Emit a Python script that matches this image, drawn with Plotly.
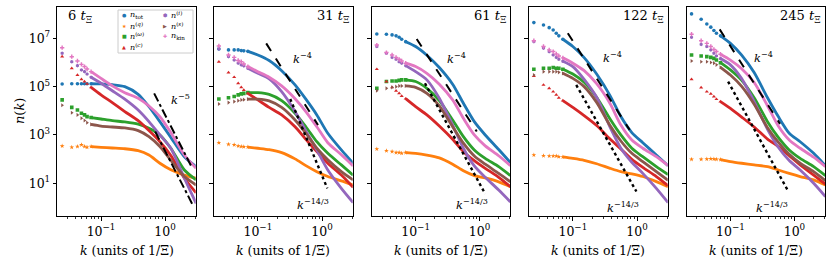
import plotly.graph_objects as go

# ---------------- data (values are log10 n(k)) ----------------
times = [6, 31, 61, 122, 245]
# first 7 k values are discrete lattice shells (drawn as dots), the rest form the dense curve
k_vals = [0.0247, 0.0349, 0.0428, 0.0494, 0.0552, 0.0605, 0.0699,
          0.1, 0.15, 0.235, 0.38, 0.56, 0.83, 1.23, 2.0, 3.05]

log_n_tot = [
    [5.11, 5.12, 5.12, 5.12, 5.12, 5.12, 5.12, 5.11, 5.08, 5.0, 4.68, 4.17, 3.55, 2.9, 2.1, 1.69],
    [6.56, 6.52, 6.52, 6.52, 6.49, 6.48, 6.46, 6.31, 6.08, 5.66, 5.07, 4.48, 3.83, 3.07, 2.38, 1.83],
    [7.18, 7.17, 7.14, 7.1, 7.04, 6.96, 6.86, 6.66, 6.3, 5.79, 5.1, 4.31, 3.55, 3.0, 2.4, 1.86],
    [7.65, 7.55, 7.44, 7.34, 7.21, 7.1, 6.96, 6.66, 6.2, 5.52, 4.63, 3.76, 3.1, 2.68, 2.17, 1.73],
    [8.01, 7.79, 7.59, 7.46, 7.32, 7.21, 7.1, 6.79, 6.3, 5.58, 4.54, 3.76, 3.07, 2.72, 2.24, 1.73],
]
log_n_q = [
    [2.54, 2.49, 2.52, 2.59, 2.52, 2.49, 2.52, 2.49, 2.46, 2.43, 2.35, 2.17, 1.83, 1.56, 1.34, 1.21],
    [2.68, 2.61, 2.59, 2.54, 2.52, 2.51, 2.5, 2.45, 2.39, 2.27, 2.01, 1.73, 1.48, 1.28, 1.1, 0.93],
    [2.42, 2.35, 2.31, 2.27, 2.27, 2.24, 2.27, 2.24, 2.17, 2.05, 1.79, 1.52, 1.32, 1.22, 1.06, 0.86],
    [2.17, 2.14, 2.13, 2.13, 2.13, 2.1, 2.09, 2.03, 1.95, 1.81, 1.62, 1.48, 1.39, 1.28, 1.07, 0.86],
    [1.99, 1.99, 2.0, 2.01, 2.0, 1.99, 1.98, 1.9, 1.83, 1.76, 1.69, 1.55, 1.41, 1.28, 1.14, 0.93],
]
log_n_w = [
    [4.45, 4.14, 4.03, 3.9, 3.83, 3.76, 3.72, 3.66, 3.59, 3.54, 3.45, 3.28, 3.0, 2.45, 1.55, 1.14],
    [4.49, 4.54, 4.59, 4.66, 4.7, 4.72, 4.75, 4.75, 4.68, 4.42, 3.9, 3.34, 2.72, 2.24, 1.76, 1.34],
    [4.93, 5.21, 5.23, 5.23, 5.26, 5.28, 5.28, 5.21, 4.93, 4.42, 3.62, 2.93, 2.38, 2.03, 1.69, 1.32],
    [5.72, 5.76, 5.76, 5.79, 5.76, 5.76, 5.72, 5.52, 5.18, 4.56, 3.66, 3.0, 2.45, 2.1, 1.69, 1.36],
    [6.31, 6.27, 6.24, 6.21, 6.17, 6.1, 5.99, 5.69, 5.26, 4.54, 3.55, 2.9, 2.38, 2.03, 1.69, 1.32],
]
log_n_c = [
    [6.24, 5.76, 5.48, 5.3, 5.21, 5.11, 4.97, 4.66, 4.34, 3.97, 3.59, 3.18, 2.72, 2.15, 1.21, 0.61],
    [6.03, 5.58, 5.39, 5.14, 4.97, 4.86, 4.72, 4.45, 4.14, 3.83, 3.34, 2.82, 2.31, 1.83, 1.34, 0.83],
    [5.72, 5.21, 4.97, 4.83, 4.72, 4.61, 4.5, 4.17, 3.83, 3.37, 2.82, 2.31, 1.94, 1.62, 1.25, 0.86],
    [5.44, 5.07, 4.93, 4.79, 4.66, 4.54, 4.42, 4.14, 3.8, 3.39, 2.83, 2.42, 1.99, 1.66, 1.28, 0.9],
    [5.3, 4.96, 4.79, 4.7, 4.59, 4.48, 4.38, 4.1, 3.74, 3.33, 2.83, 2.52, 2.14, 1.76, 1.34, 0.97],
]
log_n_i = [
    [6.38, 6.03, 5.87, 5.69, 5.62, 5.52, 5.39, 5.14, 4.83, 4.48, 4.03, 3.55, 3.0, 2.45, 1.21, 0.17],
    [6.56, 6.24, 6.1, 5.97, 5.9, 5.86, 5.76, 5.55, 5.32, 4.79, 3.97, 3.17, 2.38, 1.55, 0.79, 0.2],
    [6.66, 6.38, 6.21, 6.13, 6.03, 5.97, 5.87, 5.62, 5.28, 4.52, 3.41, 2.45, 1.72, 1.25, 0.72, 0.23],
    [6.86, 6.59, 6.45, 6.31, 6.21, 6.13, 6.05, 5.83, 5.3, 4.56, 3.32, 2.45, 1.87, 1.41, 0.79, 0.2],
    [7.04, 6.75, 6.66, 6.52, 6.38, 6.27, 6.16, 5.9, 5.33, 4.38, 3.23, 2.49, 1.94, 1.55, 1.0, 0.45],
]
log_n_s = [
    [4.23, 3.92, 3.83, 3.69, 3.6, 3.51, 3.44, 3.37, 3.33, 3.29, 3.18, 2.93, 2.52, 1.95, 1.28, 0.93],
    [4.28, 4.34, 4.38, 4.42, 4.45, 4.46, 4.48, 4.48, 4.41, 4.14, 3.62, 3.07, 2.45, 1.97, 1.48, 1.14],
    [4.83, 4.93, 4.97, 5.0, 5.03, 5.03, 5.03, 4.97, 4.72, 4.2, 3.34, 2.66, 2.13, 1.79, 1.41, 1.06],
    [5.48, 5.62, 5.62, 5.62, 5.62, 5.59, 5.55, 5.34, 5.0, 4.35, 3.39, 2.75, 2.24, 1.9, 1.48, 1.12],
    [6.06, 6.03, 6.03, 6.0, 5.97, 5.9, 5.8, 5.48, 5.01, 4.27, 3.3, 2.7, 2.2, 1.83, 1.48, 1.11],
]
log_n_kin = [
    [6.61, 6.24, 6.06, 5.92, 5.83, 5.73, 5.62, 5.34, 5.03, 4.75, 4.52, 4.2, 3.76, 3.1, 2.17, 1.62],
    [6.68, 6.31, 6.21, 6.08, 6.03, 5.94, 5.83, 5.62, 5.39, 5.03, 4.5, 3.97, 3.34, 2.68, 2.18, 1.72],
    [6.72, 6.41, 6.31, 6.21, 6.13, 6.06, 5.97, 5.83, 5.55, 5.1, 4.45, 3.69, 3.0, 2.55, 2.14, 1.73],
    [6.9, 6.66, 6.52, 6.45, 6.35, 6.27, 6.19, 5.97, 5.66, 5.12, 4.3, 3.41, 2.79, 2.45, 2.1, 1.73],
    [7.17, 6.9, 6.79, 6.66, 6.54, 6.45, 6.34, 6.1, 5.74, 5.17, 4.21, 3.37, 2.79, 2.45, 2.08, 1.69],
]

# power-law guide segments: (k endpoints, log10 n endpoints)
guide_k5_a_k = [0.675, 2.66]; guide_k5_a_n = [4.72, 1.62]
guide_k5_b_k = [0.70, 2.66];  guide_k5_b_n = [3.14, 0.14]
guide_k4_k = [[0.135, 0.866], [0.104, 0.908], [0.0835, 0.767], [0.068, 0.596]]
guide_k4_n = [[6.79, 3.41], [6.97, 3.14], [7.21, 3.21], [7.37, 3.46]]
guide_k143_k = [[0.32, 1.21], [0.14, 1.23], [0.113, 0.977], [0.092, 0.805]]
guide_k143_n = [[4.49, 0.79], [5.14, 0.56], [5.07, 0.66], [5.21, 0.66]]

x_tick_vals = [0.1, 1]
x_tick_text = ["10<sup>−1</sup>", "10<sup>0</sup>"]
x_minor_vals = [0.02, 0.03, 0.04, 0.05, 0.06, 0.07, 0.08, 0.09,
                0.2, 0.3, 0.4, 0.5, 0.6, 0.7, 0.8, 0.9, 2, 3]
y_tick_vals = [1e1, 1e3, 1e5, 1e7]
y_tick_text = ["10<sup>1</sup>", "10<sup>3</sup>", "10<sup>5</sup>", "10<sup>7</sup>"]

series = [
    ("tot", log_n_tot, "#1f77b4", "circle", "●", "<i>n</i><sub>tot</sub>"),
    ("q", log_n_q, "#ff7f0e", "star", "★", "<i>n</i><sup>(<i>q</i>)</sup>"),
    ("w", log_n_w, "#2ca02c", "square", "■", "<i>n</i><sup>(<i>ω</i>)</sup>"),
    ("c", log_n_c, "#d62728", "triangle-up", "▲", "<i>n</i><sup>(<i>c</i>)</sup>"),
    ("i", log_n_i, "#9467bd", "hexagon", "⬢", "<i>n</i><sup>(<i>i</i>)</sup>"),
    ("s", log_n_s, "#8c564b", "triangle-right", "▶", "<i>n</i><sup>(<i>s</i>)</sup>"),
    ("kin", log_n_kin, "#e377c2", "cross", "✚", "<i>n</i><sub>kin</sub>"),
]

# ---------------- layout geometry ----------------
W, H = 830, 267
FONT = "DejaVu Serif"
x_px = [(57.3, 195.7), (214, 352.7), (372, 510), (529, 667.7), (686.7, 825)]
y_dom = [(H - 216) / H, (H - 6.7) / H]
n_dots = 7

fig = go.Figure()
for p in range(5):
    xa = "x" if p == 0 else f"x{p+1}"
    ya = "y" if p == 0 else f"y{p+1}"
    for name, data, col, sym, glyph, lab in series:
        vals = [10 ** v for v in data[p]]
        fig.add_trace(go.Scatter(x=k_vals[:n_dots], y=vals[:n_dots], mode="markers",
                                 marker=dict(symbol=sym, size=3.6, color=col, line=dict(width=0)),
                                 xaxis=xa, yaxis=ya, showlegend=False, hoverinfo="skip"))
        fig.add_trace(go.Scatter(x=k_vals[n_dots - 1:], y=vals[n_dots - 1:], mode="lines",
                                 line=dict(color=col, width=2.8, shape="spline", smoothing=0.7),
                                 xaxis=xa, yaxis=ya, showlegend=False, hoverinfo="skip"))
    if p == 0:
        for gk, gn in ((guide_k5_a_k, guide_k5_a_n), (guide_k5_b_k, guide_k5_b_n)):
            fig.add_trace(go.Scatter(x=gk, y=[10 ** v for v in gn], mode="lines",
                                     line=dict(color="black", width=2, dash="dashdot"),
                                     xaxis=xa, yaxis=ya, showlegend=False, hoverinfo="skip"))
    else:
        fig.add_trace(go.Scatter(x=guide_k4_k[p - 1], y=[10 ** v for v in guide_k4_n[p - 1]],
                                 mode="lines", line=dict(color="black", width=2, dash="dash"),
                                 xaxis=xa, yaxis=ya, showlegend=False, hoverinfo="skip"))
        fig.add_trace(go.Scatter(x=guide_k143_k[p - 1], y=[10 ** v for v in guide_k143_n[p - 1]],
                                 mode="lines", line=dict(color="black", width=2.4, dash="dot"),
                                 xaxis=xa, yaxis=ya, showlegend=False, hoverinfo="skip"))

    axis_common = dict(showline=True, linecolor="black", linewidth=1.1, mirror=True,
                       showgrid=False, zeroline=False, ticks="outside", ticklen=3.5,
                       tickwidth=1, tickcolor="black",
                       tickfont=dict(family=FONT, size=12.5, color="black"))
    xkey = "xaxis" if p == 0 else f"xaxis{p+1}"
    ykey = "yaxis" if p == 0 else f"yaxis{p+1}"
    fig.layout[xkey] = dict(type="log", range=[-1.683, 0.478],
                            domain=[x_px[p][0] / W, x_px[p][1] / W], anchor=ya,
                            tickmode="array", tickvals=x_tick_vals, ticktext=x_tick_text,
                            minor=dict(tickmode="array", tickvals=x_minor_vals, ticks="outside",
                                       ticklen=2, tickwidth=0.8, tickcolor="black", showgrid=False),
                            **axis_common)
    fig.layout[ykey] = dict(type="log", range=[-0.353, 8.307], domain=y_dom, anchor=xa,
                            tickmode="array", tickvals=y_tick_vals, ticktext=y_tick_text,
                            showticklabels=(p == 0), **axis_common)

annotations = []
# panel time labels
for p, t in enumerate(times):
    xr = "x domain" if p == 0 else f"x{p+1} domain"
    yr = "y domain" if p == 0 else f"y{p+1} domain"
    if p == 0:
        annotations.append(dict(text=f"{t} <i>t</i><sub>Ξ</sub>", xref=xr, yref=yr, x=0.06, y=0.955,
                                xanchor="left", yanchor="middle", showarrow=False,
                                font=dict(family=FONT, size=13, color="black")))
    else:
        annotations.append(dict(text=f"{t} <i>t</i><sub>Ξ</sub>", xref=xr, yref=yr, x=0.985, y=0.955,
                                xanchor="right", yanchor="middle", showarrow=False,
                                font=dict(family=FONT, size=13, color="black")))
    annotations.append(dict(text="<i>k</i> (units of 1/Ξ)", xref=xr, yref="paper", x=0.5,
                            y=(H - 250) / H, xanchor="center", yanchor="middle", showarrow=False,
                            font=dict(family=FONT, size=12.5, color="black")))

# slope labels (positions in log10 axis coordinates)
slope_labels = [
    (0, 0.233, 4.45, "<i>k</i><sup>−5</sup>"),
    (1, -0.297, 6.17, "<i>k</i><sup>−4</sup>"), (1, -0.14, 0.14, "<i>k</i><sup>−14/3</sup>"),
    (2, -0.356, 6.17, "<i>k</i><sup>−4</sup>"), (2, -0.12, 0.14, "<i>k</i><sup>−14/3</sup>"),
    (3, -0.375, 6.2, "<i>k</i><sup>−4</sup>"), (3, -0.22, 0.0, "<i>k</i><sup>−14/3</sup>"),
    (4, -0.487, 6.2, "<i>k</i><sup>−4</sup>"), (4, -0.356, 0.0, "<i>k</i><sup>−14/3</sup>"),
]
for p, lx, ly, txt in slope_labels:
    annotations.append(dict(text=txt, xref="x" if p == 0 else f"x{p+1}",
                            yref="y" if p == 0 else f"y{p+1}", x=lx, y=ly,
                            xanchor="center", yanchor="middle", showarrow=False,
                            font=dict(family=FONT, size=11.5, color="black")))

# y axis title
annotations.append(dict(text="<i>n</i>(<i>k</i>)", xref="paper", yref="paper", x=19 / W,
                        y=(H - 111) / H, textangle=-90, xanchor="center", yanchor="middle",
                        showarrow=False, font=dict(family=FONT, size=13, color="black")))

# legend (two columns inside panel 1)
leg_pos = [(124, 15), (124, 25.5), (124, 36), (124, 47), (165, 15), (165, 25.5), (165, 36)]
for (name, data, col, sym, glyph, lab), (lx, ly) in zip(series, leg_pos):
    annotations.append(dict(text=glyph, xref="paper", yref="paper", x=lx / W, y=1 - ly / H,
                            xanchor="center", yanchor="middle", showarrow=False,
                            font=dict(family="DejaVu Sans", size=5, color=col)))
    annotations.append(dict(text=lab, xref="paper", yref="paper", x=(lx + 4) / W, y=1 - ly / H,
                            xanchor="left", yanchor="middle", showarrow=False,
                            font=dict(family=FONT, size=8, color="black")))

fig.update_layout(
    width=W, height=H, margin=dict(l=0, r=0, t=0, b=0),
    paper_bgcolor="white", plot_bgcolor="white", showlegend=False,
    hovermode=False,
    annotations=annotations,
    shapes=[dict(type="rect", xref="paper", yref="paper", x0=118 / W, x1=193 / W,
                 y0=1 - 53 / H, y1=1 - 10 / H, line=dict(color="#cccccc", width=1),
                 fillcolor="rgba(255,255,255,0.8)", layer="above")],
)

fig.write_html("out.html", config={"displayModeBar": False, "staticPlot": True},
               post_script="document.body.style.margin='0px';")
